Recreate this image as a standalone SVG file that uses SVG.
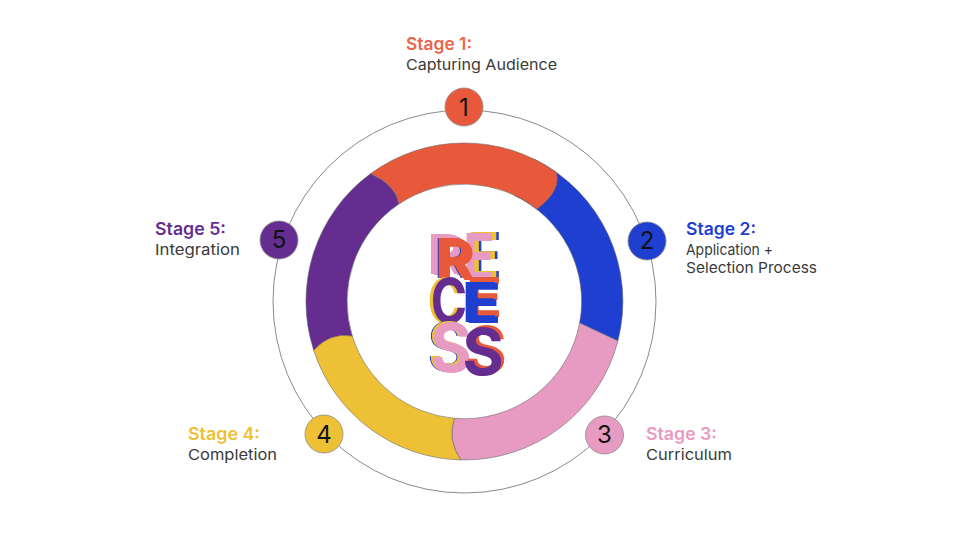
<svg xmlns="http://www.w3.org/2000/svg" width="960" height="540" viewBox="0 0 960 540">
<style>
text{font-family:Inter,"Open Sans","Liberation Sans",sans-serif}
.h{font-size:17px;font-weight:600}
.s{font-size:15px;font-weight:400;fill:#3a3a3a}
.n{font-size:24px;font-weight:400;fill:#111;text-anchor:middle}
.seg{stroke:#6b6b6b;stroke-width:.6}
.dot{stroke:#8a8a8a;stroke-width:.8}
.l{font-size:60px;font-weight:700;text-anchor:middle}
</style>
<rect width="960" height="540" fill="#fff"/>
<g id="connectors"><circle cx="464.5" cy="301.5" r="191.5" fill="none" stroke="#8a8a8a" stroke-width="1"/></g>
<g id="ring">
<path class="seg" fill="#1F3FD1" d="M534.4 159.2 A158.5 158.5 0 0 1 617.9 340.9 L579.6 323 A117.2 117.2 0 0 0 514.4 195.4Z"/>
<path class="seg" fill="#E89BC2" d="M579.6 323 L617.9 340.9 A158.5 158.500 0 0 1 460.7 459.9 Q447 440 454.3 418.3 A117.2 117.2 0 0 0 579.6 323Z"/>
<path class="seg" fill="#652D90" d="M313.7 350.4 A158.5 158.5 0 0 1 370.7 173.6 Q396 185 399 204 A117.2 117.2 0 0 0 352.3 336 L330 350Z"/>
<path class="seg" fill="#EDC035" d="M313.7 350.4 Q330 332 352.3 336 A117.2 117.2 0 0 0 454.3 418.3 Q447 440 460.7 459.9 A158.5 158.5 0 0 1 313.7 350.4Z"/>
<path class="seg" fill="#E8593B" d="M370.7 173.6 A158.5 158.5 0 0 1 556.2 172.3 Q562 190 536.9 209.2 A117.2 117.2 0 0 0 399 204 Q396 185 370.7 173.6Z"/>
</g>
<g id="logo">
<g transform="translate(479 280) scale(.86 1.07)">
<use href="#lE1" x="8" y="-1" fill="#1F3FD1"/><use href="#lE1" x="5" y="-1" fill="#EDC035"/><g fill="#E89BC2"><text id="lE1" class="l">E</text></g></g>
<g transform="translate(456.500 280) scale(.95 .92)">
<use href="#lR" x="-11" y="-6" fill="#E89BC2"/><use href="#lR" x="-8" y="-5" fill="#E89BC2"/><use href="#lR" x="-4" y="-2" fill="#1F3FD1"/><use href="#lR" x="-3" y="-2" fill="#E8593B"/><g fill="#E8593B"><text id="lR" class="l">R</text></g></g>
<g transform="translate(449 323) scale(.82 1.02)">
<use href="#lC" x="-4" fill="#EDC035"/><g fill="#652D90"><text id="lC" class="l">C</text></g></g>
<g transform="translate(483 323) scale(1 .92)">
<use href="#lE2" x="1" y="-6" fill="#E8593B"/><use href="#lE2" x="-3" y="-1" fill="#1F3FD1"/><g fill="#1F3FD1"><text id="lE2" class="l">E</text></g></g>
<g transform="translate(451 372) scale(1.06 1.13)">
<use href="#lS1" x="-3" y="-1" fill="#1F3FD1"/><use href="#lS1" x="-2" y="-.5" fill="#EDC035"/><g fill="#E89BC2"><text id="lS1" class="l">S</text></g></g>
<g transform="translate(483 375) scale(1.06 1.07)">
<use href="#lS2" x="3" y="-2" fill="#E8593B"/><g fill="#652D90"><text id="lS2" class="l">S</text></g></g>
</g>
<g id="node1"><circle class="dot" cx="464" cy="107" r="19" fill="#E8593B"/><text class="n" x="464" y="116">1</text>
<text class="h" x="406" y="49.500" fill="#E8674A" textLength="66" lengthAdjust="spacingAndGlyphs">Stage 1:</text><text class="s" x="406" y="70" textLength="151" lengthAdjust="spacingAndGlyphs">Capturing Audience</text></g>
<g id="node2"><circle class="dot" cx="647" cy="241" r="19" fill="#1F3FD1"/><text class="n" x="647" y="249">2</text>
<text class="h" x="686" y="234.500" fill="#1F3FD1" textLength="70" lengthAdjust="spacingAndGlyphs">Stage 2:</text><text class="s" x="686" y="255" textLength="87" lengthAdjust="spacingAndGlyphs">Application +</text><text class="s" x="686" y="273" textLength="131" lengthAdjust="spacingAndGlyphs">Selection Process</text></g>
<g id="node3"><circle class="dot" cx="604.5" cy="435" r="19" fill="#E89BC2"/><text class="n" x="604.5" y="443">3</text>
<text class="h" x="646" y="439.500" fill="#E89BC2" textLength="71" lengthAdjust="spacingAndGlyphs">Stage 3:</text><text class="s" x="646" y="460" textLength="86" lengthAdjust="spacingAndGlyphs">Curriculum</text></g>
<g id="node4"><circle class="dot" cx="324" cy="434" r="19" fill="#EDC035"/><text class="n" x="324" y="443">4</text>
<text class="h" x="188" y="439.500" fill="#EDC035" textLength="72" lengthAdjust="spacingAndGlyphs">Stage 4:</text><text class="s" x="188" y="460" textLength="89" lengthAdjust="spacingAndGlyphs">Completion</text></g>
<g id="node5"><circle class="dot" cx="279" cy="240" r="19" fill="#652D90"/><text class="n" x="279" y="248">5</text>
<text class="h" x="155" y="234.500" fill="#652D90" textLength="71" lengthAdjust="spacingAndGlyphs">Stage 5:</text><text class="s" x="155" y="255" textLength="85" lengthAdjust="spacingAndGlyphs">Integration</text></g>
</svg>
